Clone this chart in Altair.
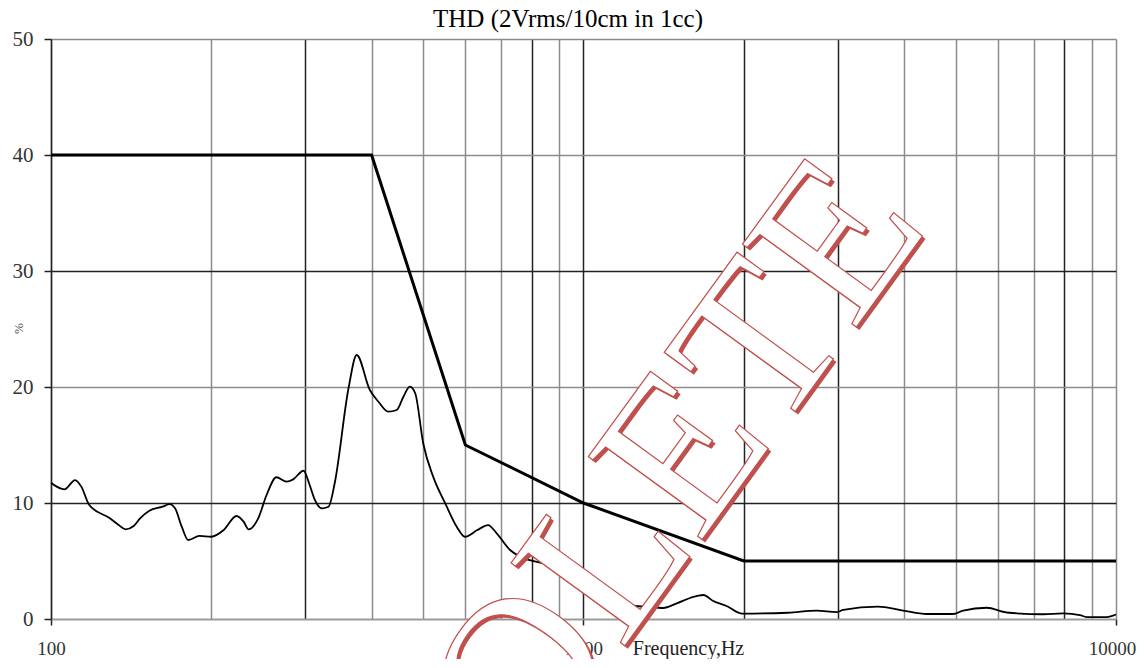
import altair as alt
import pandas as pd

# ---- text ----
title_text = "THD (2Vrms/10cm in 1cc)"
x_title = "Frequency,Hz"
y_title = "%"
watermark = "OLETE"

# ---- data ----
limit_freq = [100, 400, 600, 1000, 2000, 10000]
limit_pct = [40, 40, 15, 10, 5, 5]

thd_freq = [100, 102.5, 106, 111, 114, 118, 129, 134, 138, 143,
            147, 153, 162, 167, 171, 176, 181, 190, 200, 211,
            223, 230, 235, 245, 254, 265, 277, 285, 298, 306,
            313, 322, 332, 341, 362, 375, 397, 412, 430, 446,
            459, 472, 483, 500, 522, 550, 578, 599, 632, 662,
            687, 728, 760, 822, 891, 971, 1074, 1171, 1250, 1315,
            1411, 1496, 1585, 1679, 1753, 1857, 1982, 2421, 2741, 2989,
            3075, 3574, 3981, 4411, 4942, 5162, 5718, 6234, 7295, 7954,
            8558, 8810, 9605, 10000]
thd_pct = [11.75, 11.41, 11.18, 11.98, 11.41, 9.83, 8.68, 8.10, 7.73, 8.02,
           8.68, 9.34, 9.68, 9.91, 9.54, 7.96, 6.81, 7.16, 7.09, 7.67,
           8.88, 8.39, 7.73, 8.68, 10.69, 12.22, 11.84, 12.04, 12.78, 11.55,
           10.26, 9.54, 9.68, 11.70, 19.89, 22.76, 19.74, 18.73, 17.87, 18.02,
           19.16, 20.03, 19.46, 15.15, 12.27, 9.97, 7.96, 7.09, 7.67, 8.10,
           7.39, 5.95, 5.37, 4.91, 4.51, 3.36, 2.33, 1.55, 1.12, 1.06,
           0.95, 1.35, 1.81, 2.07, 1.55, 1.12, 0.47, 0.54, 0.72, 0.60,
           0.78, 1.06, 0.73, 0.43, 0.43, 0.72, 0.97, 0.56, 0.41, 0.49,
           0.34, 0.17, 0.17, 0.39]

x_grid = [100, 200, 300, 400, 500, 600, 700, 800, 900,
          1000, 2000, 3000, 4000, 5000, 6000, 7000, 8000, 9000, 10000]
x_labels = [100, 1000, 10000]
y_ticks = [0, 10, 20, 30, 40, 50]

# ---- styling ----
dark_x = [300, 800, 1000, 2000, 3000, 8000]
dark_y = [10, 30]
FONT = "Liberation Serif"
RED = "#c0504d"

limit_df = pd.DataFrame({"f": limit_freq, "v": limit_pct})
thd_df = pd.DataFrame({"f": thd_freq, "v": thd_pct})
wm_df = pd.DataFrame({"t": [watermark]})
title_df = pd.DataFrame({"t": [title_text]})

x_axis = alt.Axis(
    values=x_grid,
    labelExpr=f"indexof({x_labels}, datum.value) >= 0 ? '' + datum.value : ''",
    labelOverlap=False,
    labelFlush=False,
    labelFont=FONT, labelFontSize=19, labelColor="#333",
    labelPadding=14,
    labelOffset={"condition": {"test": f"datum.value == {x_labels[-1]}", "value": -4}, "value": 0},
    tickSize=6, tickColor="#222", tickWidth=1.5,
    tickOpacity={"condition": {"test": f"indexof({x_labels}, datum.value) >= 0", "value": 1}, "value": 0},
    grid=True, gridWidth=1.5,
    gridColor={"condition": {"test": f"indexof({dark_x}, datum.value) >= 0", "value": "#222"}, "value": "#8c8c8c"},
    domainColor="#999", domainWidth=1.5,
    title=x_title, titleFont=FONT, titleFontSize=20, titleFontWeight="normal",
    titleColor="#222", titleX=637, titleY=35, titleBaseline="alphabetic",
)
y_axis = alt.Axis(
    values=y_ticks,
    labelFont=FONT, labelFontSize=21, labelColor="#333", labelPadding=11,
    tickSize=7, tickColor="#222", tickWidth=1.5,
    grid=True, gridWidth=1.5,
    gridColor={"condition": {"test": f"indexof({dark_y}, datum.value) >= 0", "value": "#222"},
               "value": "#8c8c8c"},
    domainColor="#222", domainWidth=1.5,
    title=y_title, titleFont=FONT, titleFontSize=13, titleFontWeight="normal",
    titleColor="#555", titleX=-33, titleY=289, titleAngle=270, titleBaseline="middle",
)

xenc = alt.X("f:Q", scale=alt.Scale(type="log", domain=[100, 10000]), axis=x_axis)
yenc = alt.Y("v:Q", scale=alt.Scale(domain=[0, 50]), axis=y_axis)

limit = alt.Chart(limit_df).mark_line(color="black", strokeWidth=3).encode(x=xenc, y=yenc)
thd = alt.Chart(thd_df).mark_line(color="black", strokeWidth=1.8, interpolate="monotone").encode(x=xenc, y=yenc)

title = alt.Chart(title_df).mark_text(
    font=FONT, fontSize=25, align="center", baseline="alphabetic", color="black",
).encode(x=alt.value(517), y=alt.value(-12), text="t:N")

wm_shadow = alt.Chart(wm_df).mark_text(
    angle=306, fontSize=215, font=FONT, align="center", baseline="alphabetic",
    fill=RED,
).encode(x=alt.value(682), y=alt.value(465), text="t:N")
wm_front = alt.Chart(wm_df).mark_text(
    angle=306, fontSize=215, font=FONT, align="center", baseline="alphabetic",
    fill="white", stroke=RED, strokeWidth=1.2,
).encode(x=alt.value(679), y=alt.value(462), text="t:N")

chart = alt.layer(limit, thd, wm_shadow, wm_front, title).properties(
    width=1065, height=580,
    autosize=alt.AutoSizeParams(type="none"),
    padding={"left": 43, "top": 31, "right": 23, "bottom": 40},
).configure_view(stroke=None).configure(background="white")

chart.save("out.html", embed_options={"renderer": "svg", "actions": False})
